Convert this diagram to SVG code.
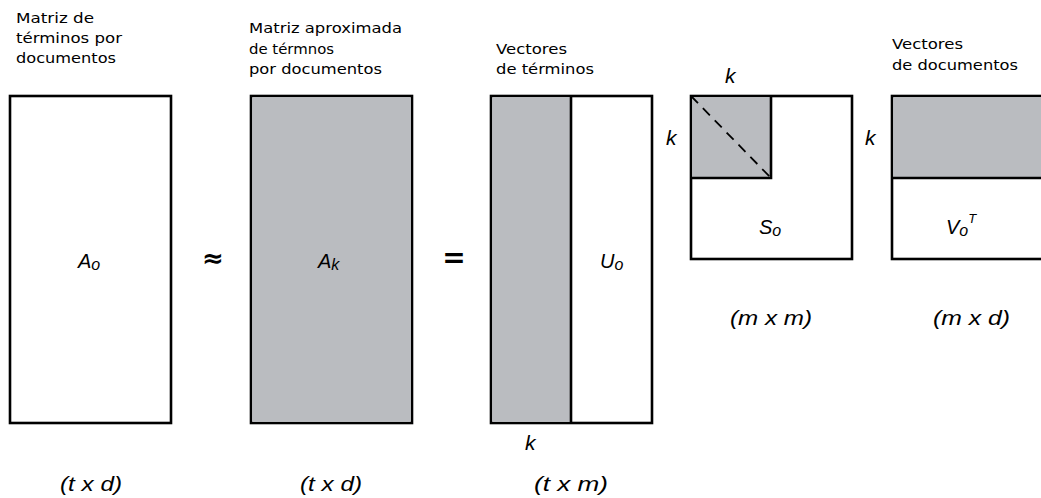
<svg xmlns="http://www.w3.org/2000/svg" width="1041" height="498" viewBox="0 0 1041 498">
<style>
.box{fill:#fff;stroke:#000;stroke-width:2.6}
.g{fill:#babcc0}
.ln{stroke:#000;stroke-width:2.6;fill:none}
.hd{font-family:"DejaVu Sans",sans-serif;font-size:14.5px;fill:#000}
.it{font-family:"Liberation Sans",Arial,sans-serif;font-style:italic;fill:#000}
.lab{font-size:21px}
.sym{font-family:"DejaVu Sans",sans-serif;font-weight:bold;fill:#000}
</style>
<rect width="1041" height="498" fill="#fff"/>
<g id="title-A0">
<text class="hd" x="16" y="23" textLength="78" lengthAdjust="spacingAndGlyphs">Matriz de</text>
<text class="hd" x="16" y="43" textLength="106" lengthAdjust="spacingAndGlyphs">términos por</text>
<text class="hd" x="16" y="63" textLength="100" lengthAdjust="spacingAndGlyphs">documentos</text>
</g>
<g id="title-Ak">
<text class="hd" x="249" y="33" textLength="153" lengthAdjust="spacingAndGlyphs">Matriz aproximada</text>
<text class="hd" x="249" y="54" textLength="85" lengthAdjust="spacingAndGlyphs">de térmnos</text>
<text class="hd" x="249" y="74" textLength="133" lengthAdjust="spacingAndGlyphs">por documentos</text>
</g>
<g id="title-U">
<text class="hd" x="496" y="54" textLength="71" lengthAdjust="spacingAndGlyphs">Vectores</text>
<text class="hd" x="496" y="74" textLength="98" lengthAdjust="spacingAndGlyphs">de términos</text>
</g>
<g id="title-V">
<text class="hd" x="892" y="49" textLength="71" lengthAdjust="spacingAndGlyphs">Vectores</text>
<text class="hd" x="892" y="70" textLength="126" lengthAdjust="spacingAndGlyphs">de documentos</text>
</g>
<g id="A0">
<rect class="box" x="10" y="96" width="161" height="327"/>
<text class="it" x="78" y="268" font-size="20">A<tspan font-size="16" dy="2">o</tspan></text>
<text class="it lab" x="60" y="491" textLength="62" lengthAdjust="spacingAndGlyphs">(t x d)</text>
</g>
<g id="approx">
<text class="sym" x="213" y="267" font-size="26" text-anchor="middle">≈</text>
</g>
<g id="Ak">
<rect class="box" x="251" y="96" width="161" height="327"/>
<rect class="g" x="252.3" y="97.3" width="158.4" height="324.4"/>
<text class="it" x="318" y="268" font-size="20" fill="#222">A<tspan font-size="16" dy="2">k</tspan></text>
<text class="it lab" x="300" y="491" textLength="62" lengthAdjust="spacingAndGlyphs">(t x d)</text>
</g>
<g id="equals">
<text class="sym" x="454" y="267" font-size="28" text-anchor="middle">=</text>
</g>
<g id="U0">
<rect class="box" x="491" y="96" width="161" height="327"/>
<rect class="g" x="492.3" y="97.3" width="78.7" height="324.4"/>
<line class="ln" x1="571" y1="96" x2="571" y2="423"/>
<text class="it" x="600" y="268" font-size="20">U<tspan font-size="16" dy="2">o</tspan></text>
<text class="it" x="525" y="450" font-size="21">k</text>
<text class="it lab" x="534" y="491" textLength="74" lengthAdjust="spacingAndGlyphs">(t x m)</text>
</g>
<g id="S0">
<rect class="box" x="691" y="96" width="161" height="163"/>
<rect class="g" x="692.3" y="97.3" width="78.7" height="80.7"/>
<path class="ln" d="M691 178 H771 V96"/>
<line x1="691" y1="96" x2="771" y2="178" stroke="#000" stroke-width="1.8" stroke-dasharray="10,7"/>
<text class="it" x="725" y="83" font-size="21">k</text>
<text class="it" x="666" y="145" font-size="21">k</text>
<text class="it" x="759" y="234" font-size="20">S<tspan font-size="16" dy="2">o</tspan></text>
<text class="it lab" x="730" y="325" textLength="82" lengthAdjust="spacingAndGlyphs">(m x m)</text>
</g>
<g id="V0T">
<rect class="box" x="892" y="96" width="160" height="163"/>
<rect class="g" x="893.3" y="97.3" width="160" height="80.7"/>
<line class="ln" x1="892" y1="178" x2="1045" y2="178"/>
<text class="it" x="865" y="145" font-size="21">k</text>
<text class="it" x="946" y="234" font-size="20">V<tspan font-size="16" dy="2">o</tspan><tspan font-size="13" dy="-13">T</tspan></text>
<text class="it lab" x="933" y="325" textLength="77" lengthAdjust="spacingAndGlyphs">(m x d)</text>
</g>
<g id="connectors"></g>
</svg>
